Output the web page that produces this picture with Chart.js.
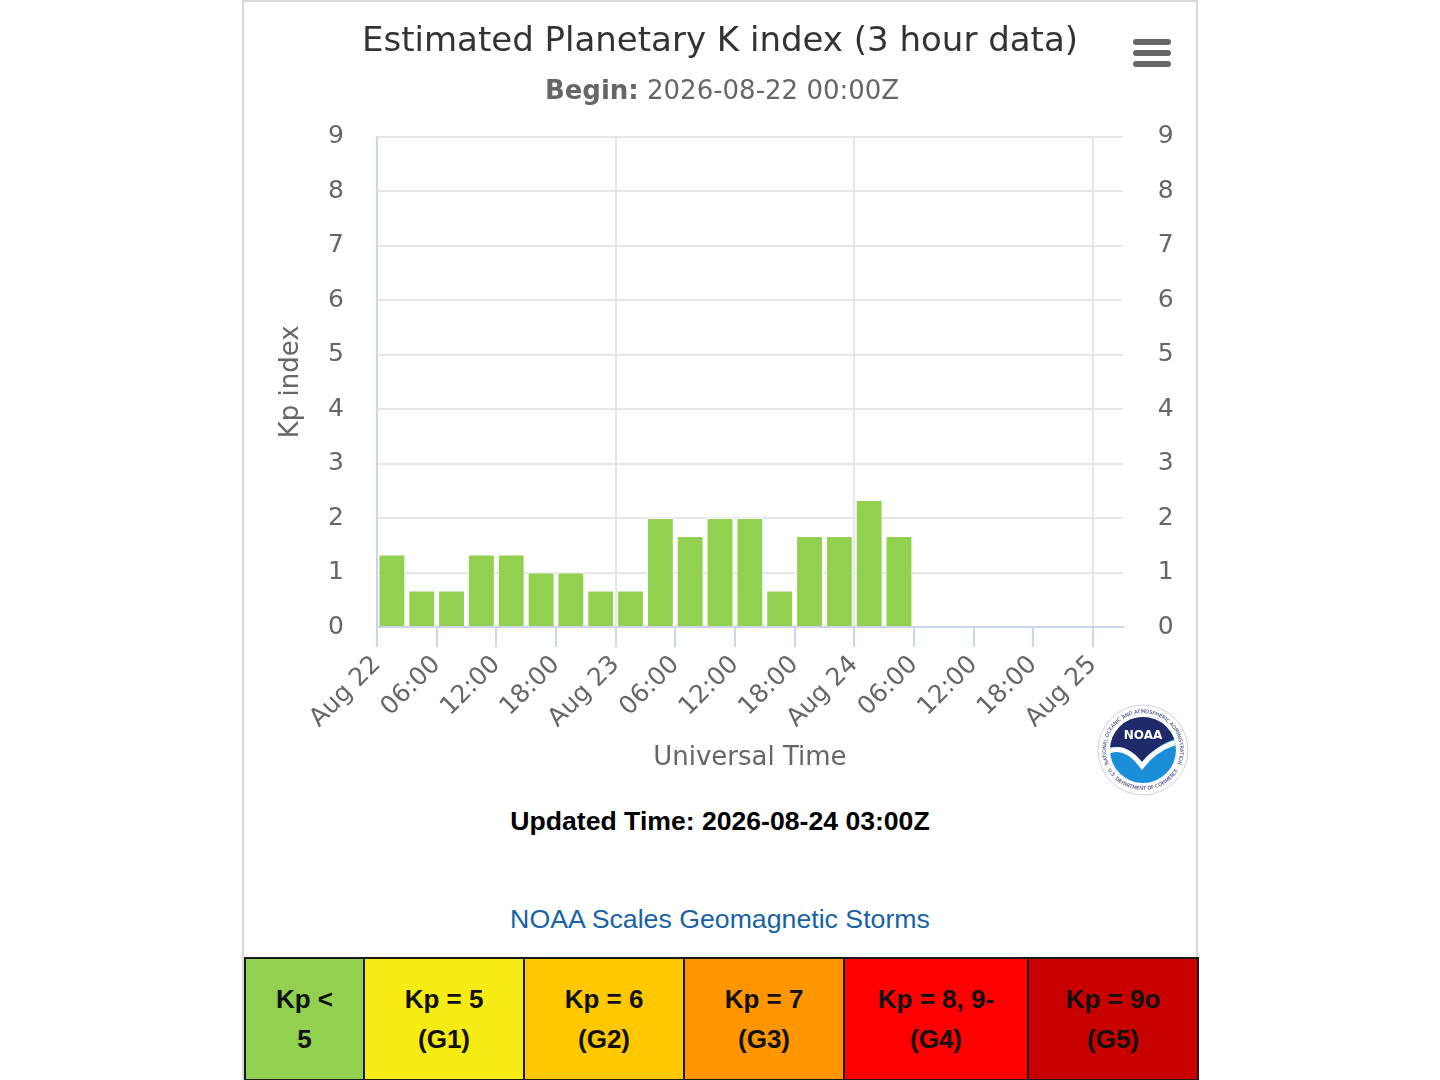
<!DOCTYPE html>
<html>
<head>
<meta charset="utf-8">
<script src="https://cdn.jsdelivr.net/npm/chart.js@4.4.0/dist/chart.umd.min.js"></script>
<style>
html,body{margin:0;padding:0;background:#fff;width:1440px;height:1080px;overflow:hidden;}
#page{position:absolute;left:242px;top:0;width:952px;height:1100px;border:2px solid #d9d9d9;border-bottom:none;}
#chartBox{position:absolute;left:0;top:0;width:952px;height:790px;}
#menu{position:absolute;left:889px;top:37px;width:38px;height:28px;}
#menu div{position:absolute;left:0;width:38px;height:6px;border-radius:3px;background:#666;}
#logo{position:absolute;left:853px;top:702px;}
#updated{position:absolute;left:0;top:804px;width:952px;height:30px;line-height:30px;text-align:center;
  font-family:"Liberation Sans",Arial,sans-serif;font-weight:bold;font-size:26.6px;color:#000;}
#scaleLink{position:absolute;left:0;top:902px;width:952px;height:30px;line-height:30px;text-align:center;
  font-family:"Liberation Sans",Arial,sans-serif;font-size:26.7px;color:#1862a8;}
#scaleTable{position:absolute;left:0;top:955px;width:953px;height:124px;border-collapse:collapse;table-layout:fixed;
  font-family:"Liberation Sans",Arial,sans-serif;font-weight:bold;font-size:26px;color:#111;}
#scaleTable td{border:2px solid #1a1a1a;text-align:center;vertical-align:middle;line-height:40px;padding:0;}
</style>
</head>
<body>
<div id="page">
  <div id="chartBox"><canvas id="kp" width="952" height="790"></canvas></div>
  <div id="menu"><div style="top:0"></div><div style="top:11px"></div><div style="top:22px"></div></div>
  <svg id="logo" width="92" height="92" viewBox="0 0 92 92">
    <defs>
      <clipPath id="inner"><circle cx="46" cy="46" r="33"/></clipPath>
      <path id="topArc" d="M 19.8,72.2 A 37 37 0 1 1 72.2,72.2"/>
      <path id="botArc" d="M 6,54 A 41 41 0 0 0 86,54"/>
    </defs>
    <circle cx="46" cy="46" r="45" fill="#fff" stroke="#c9d3e6" stroke-width="1"/>
    <g clip-path="url(#inner)">
      <rect x="0" y="0" width="92" height="92" fill="#1a8ed6"/>
      <path d="M 0,47 Q 27,35 45,60 Q 60,37 92,31 L 92,0 L 0,0 Z" fill="#1f2a6b"/>
      <path d="M 10,48 Q 28,39 45,62 Q 59,43 84,37" fill="none" stroke="#fff" stroke-width="5"/>
    </g>
    <text x="46" y="35" text-anchor="middle" font-family="DejaVu Sans" font-weight="bold" font-size="12" fill="#fff">NOAA</text>
    <text font-family="DejaVu Sans" font-size="5" fill="#1f2a6b"><textPath href="#topArc" startOffset="50%" text-anchor="middle">NATIONAL OCEANIC AND ATMOSPHERIC ADMINISTRATION</textPath></text>
    <text font-family="DejaVu Sans" font-size="5" fill="#1f2a6b"><textPath href="#botArc" startOffset="50%" text-anchor="middle">U.S. DEPARTMENT OF COMMERCE</textPath></text>
  </svg>
  <div id="updated">Updated Time: 2026-08-24 03:00Z</div>
  <div id="scaleLink">NOAA Scales Geomagnetic Storms</div>
  <table id="scaleTable">
    <colgroup><col style="width:119px"><col style="width:160px"><col style="width:160px"><col style="width:160px"><col style="width:184px"><col style="width:170px"></colgroup>
    <tr>
      <td style="background:#92d050">Kp &lt;<br>5</td>
      <td style="background:#f6eb14">Kp = 5<br>(G1)</td>
      <td style="background:#ffc800">Kp = 6<br>(G2)</td>
      <td style="background:#ff9600">Kp = 7<br>(G3)</td>
      <td style="background:#ff0000">Kp = 8, 9-<br>(G4)</td>
      <td style="background:#c80000">Kp = 9o<br>(G5)</td>
    </tr>
  </table>
</div>
<script>
// ---- data ----
const beginTime = '2026-08-22 00:00';
const timeTags = [
  '2026-08-22 00:00','2026-08-22 03:00','2026-08-22 06:00','2026-08-22 09:00',
  '2026-08-22 12:00','2026-08-22 15:00','2026-08-22 18:00','2026-08-22 21:00',
  '2026-08-23 00:00','2026-08-23 03:00','2026-08-23 06:00','2026-08-23 09:00',
  '2026-08-23 12:00','2026-08-23 15:00','2026-08-23 18:00','2026-08-23 21:00',
  '2026-08-24 00:00','2026-08-24 03:00'
];
const kpValues = [1.33,0.67,0.67,1.33,1.33,1.00,1.00,0.67,0.67,2.00,1.67,2.00,2.00,0.67,1.67,1.67,2.33,1.67];
const xTickHours  = [0,6,12,18,24,30,36,42,48,54,60,66,72];
const xTickLabels = ['Aug 22','06:00','12:00','18:00','Aug 23','06:00','12:00','18:00','Aug 24','06:00','12:00','18:00','Aug 25'];
const dayGridHours = [24,48,72];
const yTickValues = [0,1,2,3,4,5,6,7,8,9];
const axisEndHours = 75;
const intervalHours = 3;
const titleText = 'Estimated Planetary K index (3 hour data)';
const subtitleBold = 'Begin:';
const subtitleRest = ' 2026-08-22 00:00Z';

function toHours(tag){
  return (Date.parse(tag.replace(' ','T')+':00Z') - Date.parse(beginTime.replace(' ','T')+':00Z'))/3600000;
}
const barPoints = timeTags.map((t,i)=>({x: toHours(t) + intervalHours/2, y: kpValues[i]}));

Chart.defaults.font.family = '"DejaVu Sans", sans-serif';

const subtitlePlugin = {
  id:'mixedSubtitle',
  afterDraw(chart){
    const ctx = chart.ctx;
    ctx.save();
    const fb = 'bold 26px "DejaVu Sans"', fn = '26px "DejaVu Sans"';
    ctx.font = fb; const wb = ctx.measureText(subtitleBold).width;
    ctx.font = fn; const wr = ctx.measureText(subtitleRest).width;
    const x0 = chart.width/2 + 2 - (wb+wr)/2;
    ctx.fillStyle = '#666666';
    ctx.textBaseline = 'middle';
    ctx.textAlign = 'left';
    ctx.font = fb; ctx.fillText(subtitleBold, x0, 90);
    ctx.font = fn; ctx.fillText(subtitleRest, x0+wb, 90);
    ctx.restore();
  }
};

new Chart(document.getElementById('kp'), {
  type:'bar',
  data:{
    datasets:[{
      label:'Kp',
      data: barPoints,
      backgroundColor:'#92d050',
      borderColor:'#ffffff',
      borderWidth:1,
      borderSkipped:'start',
      barPercentage:0.9,
      categoryPercentage:1.0
    }]
  },
  plugins:[subtitlePlugin],
  options:{
    responsive:false,
    animation:false,
    layout:{padding:0},
    plugins:{
      legend:{display:false},
      tooltip:{enabled:false},
      title:{
        display:true,
        text:titleText,
        color:'#333333',
        font:{size:34, weight:'normal'},
        padding:{top:20, bottom:73.8}
      }
    },
    scales:{
      x:{
        type:'linear',
        min:0,
        max:axisEndHours,
        offset:false,
        afterBuildTicks:(s)=>{ s.ticks = xTickHours.map(v=>({value:v})); },
        afterFit:(s)=>{ s.height = 165; },
        ticks:{
          autoSkip:false,
          minRotation:45,
          maxRotation:45,
          padding:3,
          color:'#666666',
          font:{size:25},
          callback:(v)=>{ const i = xTickHours.indexOf(v); return i>=0 ? xTickLabels[i] : ''; }
        },
        grid:{
          offset:false,
          color:(c)=> (c.tick && dayGridHours.includes(c.tick.value)) ? '#e6e6e6' : 'rgba(0,0,0,0)',
          lineWidth:2,
          tickColor:'#ccd6eb',
          tickWidth:2,
          tickLength:20
        },
        border:{color:'#ccd6eb', width:2},
        title:{display:true, text:'Universal Time', color:'#666666', font:{size:26}, padding:{top:0, bottom:18.4}}
      },
      y:{
        position:'left',
        min:0, max:9,
        afterBuildTicks:(s)=>{ s.ticks = yTickValues.map(v=>({value:v})); },
        afterFit:(s)=>{ s.width = 133; },
        ticks:{color:'#666666', font:{size:25}, padding:33},
        grid:{
          color:(c)=> (c.tick && c.tick.value === 0) ? 'rgba(0,0,0,0)' : '#e6e6e6',
          lineWidth:2,
          drawTicks:false
        },
        border:{color:'#ccd6eb', width:2},
        title:{display:true, text:'Kp index', color:'#666666', font:{size:26}, padding:{top:31.5, bottom:0}}
      },
      y2:{
        position:'right',
        min:0, max:9,
        afterBuildTicks:(s)=>{ s.ticks = yTickValues.map(v=>({value:v})); },
        afterFit:(s)=>{ s.width = 73.3; },
        ticks:{color:'#666666', font:{size:25}, padding:35},
        grid:{drawOnChartArea:false, drawTicks:false},
        border:{display:false}
      }
    }
  }
});
</script>
</body>
</html>
